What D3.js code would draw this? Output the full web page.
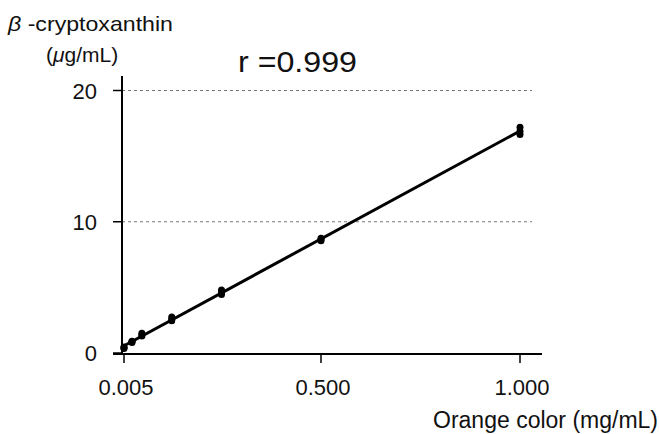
<!DOCTYPE html>
<html lang="en">
<head>
    <meta charset="UTF-8">
    <script src="https://d3js.org/d3.v7.min.js"></script>
    <title>beta-cryptoxanthin vs orange color</title>
    <style>
        body { margin: 0; background: white; }
        text { font-family: "Liberation Sans", Arial, sans-serif; fill: #111; }
    </style>
</head>
<body>
    <div id="chart"></div>
    <script>
        // concentrations (mg/mL) and triplicate readings (ug/mL)
        const conc = [0.005, 0.025, 0.05, 0.125, 0.25, 0.5, 1.0];
        const rep1 = [0.35, 0.80, 1.30, 2.45, 4.45, 8.55, 16.65];
        const rep2 = [0.40, 0.85, 1.40, 2.60, 4.60, 8.65, 16.90];
        const rep3 = [0.45, 0.90, 1.50, 2.75, 4.80, 8.75, 17.20];
        const xTicks = [0.005, 0.5, 1.0];
        const yTicks = [0, 10, 20];
        const gridTicks = [10, 20];

        const width = 659, height = 434;

        const svg = d3.select("#chart").append("svg")
            .attr("width", width)
            .attr("height", height);

        const x = d3.scaleLinear().domain([0, 1]).range([122, 520]);
        const y = d3.scaleLinear().domain([0, 20]).range([353, 90.5]);

        const points = [];
        conc.forEach((c, i) => {
            [rep1, rep2, rep3].forEach(r => points.push({ x: c, y: r[i] }));
        });

        // least squares fit
        const mx = d3.mean(points, d => d.x), my = d3.mean(points, d => d.y);
        const slope = d3.sum(points, d => (d.x - mx) * (d.y - my)) / d3.sum(points, d => (d.x - mx) ** 2);
        const icpt = my - slope * mx;

        // grid
        svg.selectAll(".grid")
            .data(gridTicks)
            .enter()
            .append("line")
            .attr("x1", x(0)).attr("x2", 532)
            .attr("y1", d => y(d)).attr("y2", d => y(d))
            .attr("stroke", "#777")
            .attr("stroke-width", 1)
            .attr("stroke-dasharray", "3,3");

        // axes
        svg.append("line")
            .attr("x1", x(0)).attr("x2", x(0))
            .attr("y1", y(0) + 1).attr("y2", 76)
            .attr("stroke", "#000").attr("stroke-width", 2);
        svg.append("line")
            .attr("x1", x(0) - 9).attr("x2", 542)
            .attr("y1", y(0) + 1).attr("y2", y(0) + 1)
            .attr("stroke", "#000").attr("stroke-width", 2);

        svg.selectAll(".ytick")
            .data(yTicks)
            .enter()
            .append("line")
            .attr("x1", x(0) - 9).attr("x2", x(0))
            .attr("y1", d => y(d)).attr("y2", d => y(d))
            .attr("stroke", "#000").attr("stroke-width", 1.5);

        svg.selectAll(".ylab")
            .data(yTicks)
            .enter()
            .append("text")
            .attr("x", 97)
            .attr("y", d => y(d) + 8)
            .attr("text-anchor", "end")
            .attr("font-size", 22)
            .text(d => d);

        svg.selectAll(".xtick")
            .data(xTicks)
            .enter()
            .append("line")
            .attr("x1", d => x(d)).attr("x2", d => x(d))
            .attr("y1", y(0) + 1).attr("y2", y(0) + 10)
            .attr("stroke", "#000").attr("stroke-width", 1.5);

        svg.selectAll(".xlab")
            .data(xTicks)
            .enter()
            .append("text")
            .attr("x", d => x(d) + 2)
            .attr("y", 395)
            .attr("text-anchor", "middle")
            .attr("font-size", 22)
            .text(d => d3.format(".3f")(d));

        // fit line
        const x0 = 0.003, x1 = 1.0;
        svg.append("line")
            .attr("x1", x(x0)).attr("y1", y(icpt + slope * x0))
            .attr("x2", x(x1)).attr("y2", y(icpt + slope * x1))
            .attr("stroke", "#000").attr("stroke-width", 3);

        svg.selectAll(".pt")
            .data(points)
            .enter()
            .append("circle")
            .attr("cx", d => x(d.x))
            .attr("cy", d => y(d.y))
            .attr("r", 3.5)
            .attr("fill", "#000");

        // labels
        const yt = svg.append("text").attr("x", 8).attr("y", 31).attr("font-size", 21)
            .attr("textLength", 165).attr("lengthAdjust", "spacingAndGlyphs");
        yt.append("tspan").attr("font-style", "italic").text("β");
        yt.append("tspan").text(" -cryptoxanthin");

        const yu = svg.append("text").attr("x", 46).attr("y", 62).attr("font-size", 21);
        yu.append("tspan").text("(");
        yu.append("tspan").attr("font-style", "italic").text("μ");
        yu.append("tspan").text("g/mL)");

        svg.append("text")
            .attr("x", 238).attr("y", 72)
            .attr("font-size", 30)
            .attr("textLength", 119).attr("lengthAdjust", "spacingAndGlyphs")
            .text("r =0.999");

        svg.append("text")
            .attr("x", 658).attr("y", 428)
            .attr("text-anchor", "end")
            .attr("font-size", 23)
            .text("Orange color (mg/mL)");
    </script>
</body>
</html>
